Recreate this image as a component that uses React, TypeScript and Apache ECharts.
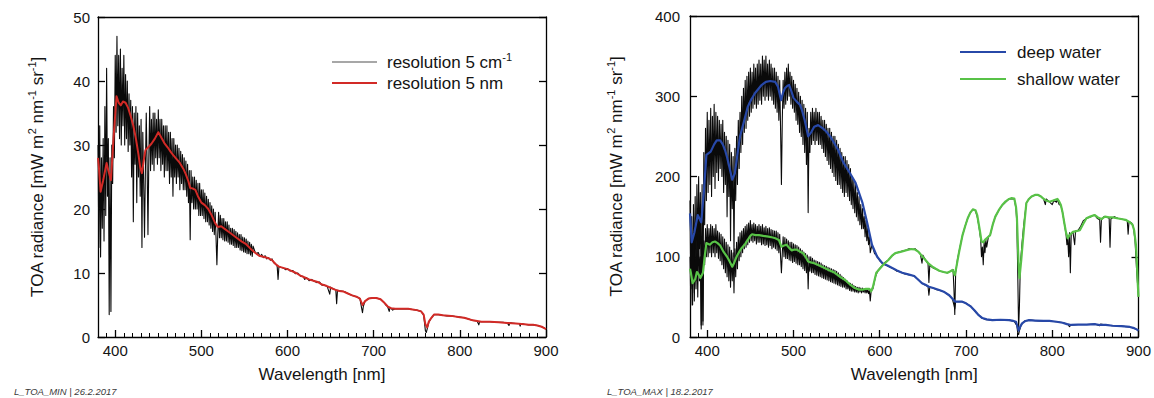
import React, { useEffect, useRef } from 'react';
import * as echarts from 'echarts';

// ---------- axes ----------
const X_MIN = 380;
const X_MAX = 900;
const LEFT_Y_MAX = 50;
const LEFT_Y_STEP = 10;
const RIGHT_Y_MAX = 400;
const RIGHT_Y_STEP = 100;
const X_MINOR_STEP = 10;

// ---------- left chart: high-resolution (1 nm samples from 380 nm) ----------
const NOISY_START_NM = 380;
const leftBlackNoisy = [
  30, 14, 33, 12.5, 28, 17, 31, 15, 36, 19, 42, 22, 31, 3.5, 28, 4, 30, 24, 36, 28,
  44, 32, 47, 33, 44, 31, 45, 30, 42, 33, 44, 30, 41, 31, 40, 29, 38, 30, 37, 25,
  36, 18, 35, 27, 36, 21, 35, 25, 33, 22, 34, 14, 32, 24, 15.6, 26, 35, 27, 16, 28,
  36, 26, 34, 27, 35, 26, 35, 28, 34, 27, 35.5, 28, 34, 26, 34, 27, 33, 25, 33, 26,
  33, 26, 32, 24, 32, 25, 31, 22, 31, 25, 30, 24, 30, 25, 29.5, 23, 29, 24, 28.5, 23,
  28, 23, 27.5, 22, 27, 21, 26, 15.2, 26, 21, 25, 20, 25, 20, 24.5, 20, 24, 19, 24, 19,
  23, 19, 23, 18.5, 22.5, 18, 22, 18, 21.5, 17.5, 21, 17, 20.5, 16.5, 20, 16, 19.5, 15.5, 11.3, 16,
  19.5, 15.5, 19, 15.5, 18.5, 15.2, 18.5, 15, 18, 15, 18, 14.8, 17.5, 14.5, 17, 14.5, 17, 14.3, 16.8, 14,
  16.5, 14, 16.3, 14, 16, 13.6, 16, 13.5, 15.6, 13.3, 15.5, 13.2, 15.3, 13, 15, 13, 14.8, 12.8, 14.5, 12.6,
  14.2,
];
const leftBlackTail: [number, number][] = [
  [562, 13.4], [564, 13.0], [566, 13.2], [568, 12.6], [570, 12.9], [572, 12.4], [574, 12.7], [576, 12.2],
  [578, 12.4], [580, 12.0], [582, 12.2], [584, 11.6], [586, 11.5], [588, 11.0], [589, 9.0], [590, 11.0],
  [592, 10.9], [595, 10.8], [598, 10.5], [600, 10.7], [603, 10.3], [606, 10.4], [609, 9.9], [612, 10.0],
  [615, 9.5], [618, 9.5], [620, 9.0], [622, 9.3], [625, 8.8], [628, 9.0], [631, 8.7], [634, 8.5],
  [637, 8.6], [640, 8.1], [643, 8.1], [646, 7.9], [649, 6.7], [650, 7.8], [653, 7.5], [656, 7.4],
  [657, 5.2], [658, 7.3], [662, 7.2], [666, 7.1], [670, 6.8], [675, 6.5], [680, 6.3], [684, 6.0],
  [686, 4.5], [687, 3.8], [688, 4.8], [690, 5.6], [694, 6.0], [698, 6.1], [703, 6.1], [708, 5.9],
  [712, 5.4], [714, 5.0], [716, 4.8], [718, 4.0], [719, 4.6], [720, 4.5], [722, 4.2], [725, 4.4],
  [730, 4.4], [735, 4.4], [740, 4.4], [745, 4.3], [750, 4.2], [755, 4.0], [758, 3.4], [760, 1.0],
  [761, 0.7], [762, 1.2], [764, 2.3], [767, 3.0], [770, 3.5], [775, 3.5], [780, 3.4], [785, 3.3],
  [790, 3.3], [795, 3.2], [800, 3.1], [805, 3.0], [810, 2.8], [815, 2.6], [820, 2.5], [822, 1.9],
  [823, 2.4], [825, 2.4], [830, 2.4], [835, 2.4], [840, 2.3], [845, 2.3], [850, 2.3], [855, 2.2],
  [857, 1.8], [858, 2.2], [860, 2.2], [865, 2.1], [869, 2.1], [870, 1.7], [871, 2.1], [875, 2.0],
  [880, 1.9], [885, 1.9], [890, 1.8], [895, 1.6], [898, 1.4], [900, 1.2],
];
const leftRed: [number, number][] = [
  [380, 28], [381, 26.6], [383, 22.7], [386, 24.5], [390, 27.2], [392, 26], [395, 24.5], [398, 31],
  [401.5, 37.6], [404, 36.6], [406.5, 36.2], [409, 36.8], [412, 36.6], [415, 35.8], [418, 34.5], [421, 33],
  [424, 31], [427, 28.5], [429, 26.5], [431, 25.6], [433, 27.5], [435, 29.2], [438, 29.6], [442, 30.2],
  [446, 31], [450, 32], [453, 31.3], [457, 30.3], [461, 29.6], [465, 28.8], [470, 28], [475, 27.2],
  [479, 26.3], [482, 25.4], [485, 24.3], [487, 23.3], [490, 23.2], [493, 23], [496, 22], [500, 21],
  [504, 20.6], [508, 20], [512, 19], [516, 17.8], [519, 17.2], [523, 17.3], [527, 16.9], [532, 16.4],
  [537, 15.9], [542, 15.4], [547, 14.9], [552, 14.5], [557, 13.8], [562, 13.2], [567, 12.7], [573, 12.5],
  [578, 12.3], [582, 12], [586, 11.4], [590, 11], [595, 10.8], [600, 10.6], [605, 10.3], [610, 10],
  [615, 9.6], [620, 9.3], [625, 9], [630, 8.8], [635, 8.6], [640, 8.2], [645, 8], [650, 7.7],
  [655, 7.4], [660, 7.2], [665, 7.1], [670, 6.8], [675, 6.5], [680, 6.3], [684, 6], [687, 5],
  [690, 5.6], [694, 6], [698, 6.1], [703, 6.1], [708, 5.9], [712, 5.4], [716, 4.8], [720, 4.5],
  [725, 4.4], [730, 4.4], [740, 4.4], [745, 4.3], [750, 4.2], [755, 4], [758, 3.5], [760, 2],
  [762, 1.5], [764, 2.4], [767, 3], [770, 3.5], [775, 3.5], [780, 3.4], [790, 3.3], [800, 3.1],
  [805, 3], [810, 2.8], [815, 2.6], [820, 2.5], [825, 2.4], [835, 2.4], [845, 2.3], [855, 2.2],
  [865, 2.1], [875, 2], [880, 1.9], [885, 1.9], [890, 1.8], [895, 1.6], [898, 1.4], [900, 1.2],
];

// ---------- right chart ----------
const deepBlackNoisy = [
  170, 60, 150, 40, 165, 80, 175, 70, 190, 95, 200, 110, 180, 15, 190, 20, 230, 140, 260, 170,
  280, 180, 270, 190, 285, 175, 275, 200, 290, 185, 280, 205, 275, 195, 270, 210, 265, 200, 270, 180,
  255, 190, 250, 150, 245, 175, 240, 120, 230, 160, 225, 100, 235, 170, 250, 190, 270, 210, 280, 230,
  300, 240, 310, 255, 320, 260, 325, 270, 330, 275, 335, 280, 330, 285, 340, 290, 335, 285, 340, 290,
  345, 295, 340, 290, 350, 300, 345, 295, 350, 300, 340, 295, 345, 300, 340, 295, 335, 290, 335, 285,
  330, 280, 325, 270, 320, 260, 190, 270, 320, 285, 330, 290, 335, 295, 340, 300, 330, 290, 325, 285,
  320, 280, 315, 270, 310, 265, 305, 255, 300, 250, 295, 240, 290, 230, 285, 215, 280, 155, 260, 230,
  280, 240, 285, 245, 280, 240, 285, 245, 280, 240, 280, 240, 275, 235, 270, 230, 270, 225, 265, 220,
  260, 215, 260, 210, 255, 205, 250, 200, 250, 195, 245, 190, 240, 190, 235, 185, 230, 180, 225, 175,
  225, 180, 220, 175, 215, 170, 210, 165, 200, 160, 195, 155, 190, 150, 180, 145, 175, 140, 165, 135,
  160, 135, 150, 125, 145, 120, 135, 115, 125, 105, 110,
];
const deepBlackTail: [number, number][] = [
  [591, 115], [594, 104], [597, 101], [600, 95], [604, 91], [608, 89], [612, 87], [616, 85],
  [620, 82], [624, 81], [628, 79], [632, 78], [636, 77], [640, 76], [644, 72], [648, 68],
  [652, 65], [656, 63], [657, 52], [658, 62], [662, 61], [666, 59], [670, 58], [675, 56],
  [680, 52], [684, 48], [686, 40], [687, 35], [688, 44], [692, 44], [696, 44], [700, 42],
  [706, 38], [712, 30], [718, 24], [722, 22], [730, 21], [740, 21.5], [750, 21], [756, 19.5],
  [759, 14], [760, 5], [761, 3], [762, 8], [764, 15], [768, 20], [775, 21], [785, 20],
  [795, 20], [805, 19], [812, 18], [818, 16], [820, 13], [822, 15], [830, 15.5], [840, 15.5],
  [850, 16], [855, 14], [856, 16], [862, 15], [870, 14], [880, 13.5], [890, 12.5], [895, 11], [900, 8],
];
const shallowBlackNoisy = [
  100, 40, 120, 55, 130, 45, 110, 60, 125, 50, 140, 70, 100, 10, 110, 15, 120, 90, 135, 100,
  140, 100, 135, 105, 140, 100, 138, 105, 135, 100, 140, 105, 132, 98, 130, 95, 128, 90, 125, 85,
  122, 80, 118, 75, 115, 70, 112, 62, 108, 70, 105, 55, 110, 75, 118, 85, 125, 95, 130, 100,
  132, 105, 135, 110, 138, 112, 140, 115, 142, 118, 145, 120, 140, 118, 142, 120, 140, 116, 138, 118,
  140, 118, 138, 115, 140, 116, 136, 114, 138, 115, 135, 112, 136, 114, 134, 110, 133, 112, 132, 110,
  132, 108, 130, 105, 128, 100, 80, 104, 125, 100, 124, 98, 122, 98, 120, 96, 118, 95, 118, 93,
  116, 94, 115, 92, 114, 90, 112, 90, 110, 88, 108, 85, 106, 83, 104, 80, 102, 60, 100, 82,
  100, 80, 98, 80, 96, 78, 95, 77, 94, 76, 93, 75, 92, 74, 90, 73, 89, 72, 88, 71,
  87, 70, 86, 69, 85, 68, 84, 67, 83, 66, 82, 65, 80, 64, 78, 63, 76, 62, 74, 62,
  72, 60, 70, 60, 68, 58, 67, 57, 66, 57, 64, 56, 63, 56, 62, 55, 62, 56, 61, 55,
  61, 56, 60, 55, 60, 55, 59, 54, 58, 45, 57,
];
const shallowBlackTail: [number, number][] = [
  [592, 60], [595, 75], [598, 83], [602, 88], [606, 93], [610, 96], [614, 101], [618, 104],
  [622, 106], [626, 107], [630, 108], [634, 110], [638, 109], [641, 110], [644, 107], [647, 104],
  [649, 92], [650, 102], [653, 96], [656, 91], [657, 68], [658, 89], [662, 86], [666, 84],
  [670, 82], [674, 81], [678, 80], [682, 82], [685, 84], [686, 60], [687, 28], [688, 80],
  [690, 96], [693, 112], [696, 127], [699, 138], [702, 148], [705, 155], [708, 159], [711, 157],
  [713, 150], [715, 138], [717, 122], [718, 100], [719, 112], [720, 90], [721, 118], [722, 105],
  [723, 121], [724, 112], [726, 125], [728, 127], [731, 140], [734, 150], [738, 158], [742, 164],
  [746, 168], [750, 172], [753, 172], [756, 172], [758, 160], [759, 140], [760, 80], [761, 10],
  [762, 40], [763, 90], [765, 117], [767, 140], [770, 167], [773, 172], [776, 175], [780, 177],
  [784, 177], [787, 175], [790, 172], [792, 165], [793, 172], [797, 168], [800, 165], [802, 170],
  [805, 168], [806, 172], [808, 165], [810, 164], [812, 155], [814, 142], [816, 128], [817, 115],
  [818, 123], [819, 100], [820, 130], [821, 80], [822, 128], [824, 131], [826, 115], [827, 132],
  [830, 133], [833, 138], [836, 145], [840, 148], [845, 150], [849, 152], [852, 148], [855, 146],
  [856, 118], [857, 146], [860, 150], [864, 149], [866, 148], [867, 112], [868, 147], [872, 150],
  [876, 148], [880, 147], [884, 146], [887, 145], [888, 128], [889, 144], [892, 142], [894, 138],
  [896, 120], [898, 80], [900, 50],
];
const deepBlue: [number, number][] = [
  [380, 154], [382, 118], [385, 130], [389, 152], [393, 143], [396, 180], [399, 227], [404, 231],
  [408, 240], [411, 245], [415, 245], [418, 240], [420.6, 233], [423, 224], [425.6, 212], [429, 196],
  [432, 204], [435.7, 233], [438, 250], [441.5, 264], [447, 287], [451, 296], [455.5, 304], [463, 314],
  [468, 318], [473, 319], [478.7, 318], [482, 312], [485.6, 295], [488, 305], [490, 310], [493, 313],
  [495, 314], [497, 308], [500, 298], [504, 293], [507.7, 289], [510, 282], [513, 270], [517, 250],
  [521, 256], [524, 262], [528.6, 264], [534, 260], [538, 256], [542.5, 250], [547, 242], [551.8, 233],
  [557.6, 218], [565, 205], [572, 192], [580, 167], [585.5, 142], [591, 115], [597, 100], [603, 92],
  [609, 89], [614.5, 86], [620, 83], [626, 80], [633, 78], [640, 76], [645, 71], [649, 67],
  [653, 65], [657, 62.7], [662, 61], [669, 58.6], [675, 56], [680.6, 52], [684, 48], [687.6, 44],
  [691, 44], [695.7, 44], [700, 42], [705.8, 37.8], [710, 33], [714, 28], [719, 23.6], [724, 22],
  [730.6, 21], [740, 21.5], [750, 21], [755, 20], [758, 19], [760, 12], [761, 8], [763, 13],
  [765, 17], [769, 20], [773, 21], [780, 20.5], [790, 20], [796.7, 20], [805, 19], [812, 17.8],
  [817, 16], [822, 15], [830, 15.5], [840, 15.5], [849, 16], [855, 15], [862, 15], [870, 14],
  [880, 13.5], [890, 12.5], [895, 11], [898, 9.5], [900, 8],
];
const shallowGreen: [number, number][] = [
  [380, 85], [381, 80], [383, 67], [386, 72], [388, 81], [390, 78], [392, 73.5], [395, 80],
  [397, 100], [399, 117], [403, 115], [406, 118], [409, 119], [412, 117], [415, 114], [419, 106],
  [423, 100], [426, 94], [429, 87.6], [431, 92], [434, 100], [437, 106], [440, 111], [444, 116],
  [447, 121], [450, 126], [452, 128], [456, 127], [460, 127], [465, 126], [471, 125], [476, 124],
  [479, 123], [483, 121], [486, 112.5], [489, 114], [492, 115], [495, 111], [498, 108], [501, 109],
  [504, 109], [508, 106], [511, 104.6], [514, 100], [517, 94], [520, 93], [524, 92], [530, 89],
  [536, 86], [542, 83], [548, 80], [554, 75], [560, 71], [565, 66], [571, 61], [576, 59],
  [580, 59], [584, 60], [588, 60], [590, 57], [592, 62], [596, 80], [600, 85], [604, 90],
  [610, 96], [614, 101], [618, 104.6], [624, 106], [630, 108], [637, 109.6], [641, 109], [645, 106],
  [649, 101], [653, 96], [657, 91], [661, 87.6], [665, 85], [669, 82.6], [674, 81], [678.6, 80],
  [682, 82], [684.5, 83.5], [687, 77], [689, 88], [692, 106], [696, 127], [699, 138], [702, 148],
  [705, 155], [708, 159], [711, 158], [713, 152], [716, 133], [718, 119], [720, 118], [722, 121],
  [725, 124], [728, 127], [731, 140], [734, 150], [738, 158], [742, 164.5], [746, 169], [750, 172],
  [753, 173], [756, 172.6], [758, 162], [759, 150], [760, 120], [761, 90], [762, 73.5], [764, 95],
  [765.7, 117], [768, 145], [770, 167], [773, 172], [776, 175], [780, 177], [783.6, 177], [787, 175],
  [789, 173], [793, 170], [797, 168.6], [801, 170], [806, 172], [808, 169], [810, 164.5], [812, 155],
  [814, 142], [816, 130], [818, 123], [820, 127], [824, 131], [828, 132], [832, 133], [836, 141],
  [839.6, 148], [844, 150], [849, 152], [853, 149], [857, 147], [861, 150], [866, 149], [870, 149],
  [875, 148], [880, 147], [885, 146], [890, 143], [893, 140], [895, 133], [897, 115], [898, 95],
  [899, 70], [900, 50],
];

// ---------- texts ----------
const X_NAME = 'Wavelength [nm]';
const Y_NAME_RICH = '{a|TOA radiance [mW m}{s|2}{a| nm}{s|-1}{a| sr}{s|-1}{a|]}';
const LEFT_LEGEND = ['{a|resolution 5 cm}{s|-1}', '{a|resolution 5 nm}'];
const RIGHT_LEGEND = ['deep water', 'shallow water'];
const CAPTIONS = ['L_TOA_MIN | 26.2.2017', 'L_TOA_MAX | 18.2.2017'];

const FONT = '"Liberation Sans", Arial, Helvetica, sans-serif';
const TXT = '#141414';
const C_BLACK = '#0a0a0a';
const C_RED = '#d22a26';
const C_BLUE = '#2748a8';
const C_GREEN = '#58c247';
const C_GRAY = '#8a8a8a';

const noisyPairs = (vals: number[]) => vals.map((v, i) => [NOISY_START_NM + i, v]);

const richStyles = {
  a: { fontSize: 17, fontFamily: FONT, color: TXT, fill: TXT, lineHeight: 22 },
  s: { fontSize: 11, fontFamily: FONT, color: TXT, fill: TXT, lineHeight: 12, verticalAlign: 'top' },
};

const axisLine = { show: true, onZero: false, lineStyle: { color: '#000', width: 1.3 } };

function xAxesFor(gridIndex: number) {
  return [
    {
      type: 'value', gridIndex, min: X_MIN, max: X_MAX, splitNumber: 5, position: 'bottom',
      axisLine,
      axisTick: { show: true, inside: true, length: 7, lineStyle: { color: '#000', width: 1.3 } },
      axisLabel: { show: true, showMinLabel: false, fontSize: 15, color: TXT, margin: 6, fontFamily: FONT },
      splitLine: { show: false },
      name: X_NAME, nameLocation: 'middle', nameGap: 29,
      nameTextStyle: { fontSize: 17, color: TXT, fontFamily: FONT },
    },
    {
      type: 'value', gridIndex, min: X_MIN, max: X_MAX, interval: X_MINOR_STEP, position: 'bottom',
      axisLine: { show: false, onZero: false },
      axisTick: { show: true, inside: true, length: 4, lineStyle: { color: '#000', width: 1 } },
      axisLabel: { show: false }, splitLine: { show: false },
    },
    {
      type: 'value', gridIndex, min: X_MIN, max: X_MAX, position: 'top',
      axisLine, axisTick: { show: false }, axisLabel: { show: false }, splitLine: { show: false },
    },
  ];
}

function yAxesFor(gridIndex: number, max: number, step: number, nameGap: number, margin: number) {
  return [
    {
      type: 'value', gridIndex, min: 0, max, interval: step, position: 'left',
      axisLine,
      axisTick: { show: true, inside: true, length: 7, lineStyle: { color: '#000', width: 1.3 } },
      axisLabel: { show: true, fontSize: 15, color: TXT, margin, fontFamily: FONT },
      splitLine: { show: false },
      name: Y_NAME_RICH, nameLocation: 'middle', nameGap, nameRotate: 90,
      nameTextStyle: { fontSize: 17, color: TXT, fontFamily: FONT, rich: richStyles },
    },
    {
      type: 'value', gridIndex, min: 0, max, interval: step, position: 'right',
      axisLine,
      axisTick: { show: true, inside: true, length: 7, lineStyle: { color: '#000', width: 1.3 } },
      axisLabel: { show: false }, splitLine: { show: false },
    },
  ];
}

function lineSeries(data: number[][], xi: number, yi: number, color: string, width: number) {
  return {
    type: 'line', data, xAxisIndex: xi, yAxisIndex: yi, showSymbol: false, symbol: 'none',
    silent: true, clip: true,
    lineStyle: { color, width, join: 'round' },
  };
}

function legendItem(x1: number, x2: number, tx: number, y: number, color: string, width: number, text: string) {
  return [
    { type: 'line', shape: { x1, y1: y, x2, y2: y }, style: { stroke: color, lineWidth: width } },
    {
      type: 'text', x: tx, y,
      style: { text, rich: richStyles, fontSize: 17, fontFamily: FONT, fill: TXT, verticalAlign: 'middle', align: 'left' },
    },
  ];
}

export default function App() {
  const ref = useRef<HTMLDivElement>(null);
  useEffect(() => {
    const chart = echarts.init(ref.current!, null, { renderer: 'svg' });
    const option: any = {
      animation: false,
      backgroundColor: '#ffffff',
      grid: [
        { left: 98, top: 17, width: 448, height: 320 },
        { left: 690, top: 16, width: 450, height: 321 },
      ],
      xAxis: [...xAxesFor(0), ...xAxesFor(1)],
      yAxis: [
        ...yAxesFor(0, LEFT_Y_MAX, LEFT_Y_STEP, 50, 8),
        ...yAxesFor(1, RIGHT_Y_MAX, RIGHT_Y_STEP, 63, 10),
      ],
      series: [
        lineSeries([...noisyPairs(leftBlackNoisy), ...leftBlackTail], 0, 0, C_BLACK, 1.1),
        lineSeries(leftRed, 0, 0, C_RED, 2),
        lineSeries([...noisyPairs(deepBlackNoisy), ...deepBlackTail], 3, 2, C_BLACK, 1.1),
        lineSeries([...noisyPairs(shallowBlackNoisy), ...shallowBlackTail], 3, 2, C_BLACK, 1.1),
        lineSeries(deepBlue, 3, 2, C_BLUE, 2.2),
        lineSeries(shallowGreen, 3, 2, C_GREEN, 2.2),
      ],
      graphic: [
        ...legendItem(332, 377, 387, 62, C_GRAY, 1.5, LEFT_LEGEND[0]),
        ...legendItem(332, 377, 387, 83, C_RED, 2, LEFT_LEGEND[1]),
        ...legendItem(960, 1006, 1017, 52, C_BLUE, 2.2, RIGHT_LEGEND[0]),
        ...legendItem(960, 1006, 1017, 79, C_GREEN, 2.2, RIGHT_LEGEND[1]),
        {
          type: 'text', x: 14, y: 391,
          style: { text: CAPTIONS[0], fontSize: 9.5, fontStyle: 'italic', fontFamily: FONT, fill: '#3a3a3a', verticalAlign: 'middle' },
        },
        {
          type: 'text', x: 607, y: 391,
          style: { text: CAPTIONS[1], fontSize: 9.5, fontStyle: 'italic', fontFamily: FONT, fill: '#3a3a3a', verticalAlign: 'middle' },
        },
      ],
    };
    chart.setOption(option);
    return () => chart.dispose();
  }, []);
  return (
    <div
      ref={ref}
      style={{ position: 'fixed', left: 0, top: 0, width: 1154, height: 398, background: '#fff' }}
    />
  );
}
